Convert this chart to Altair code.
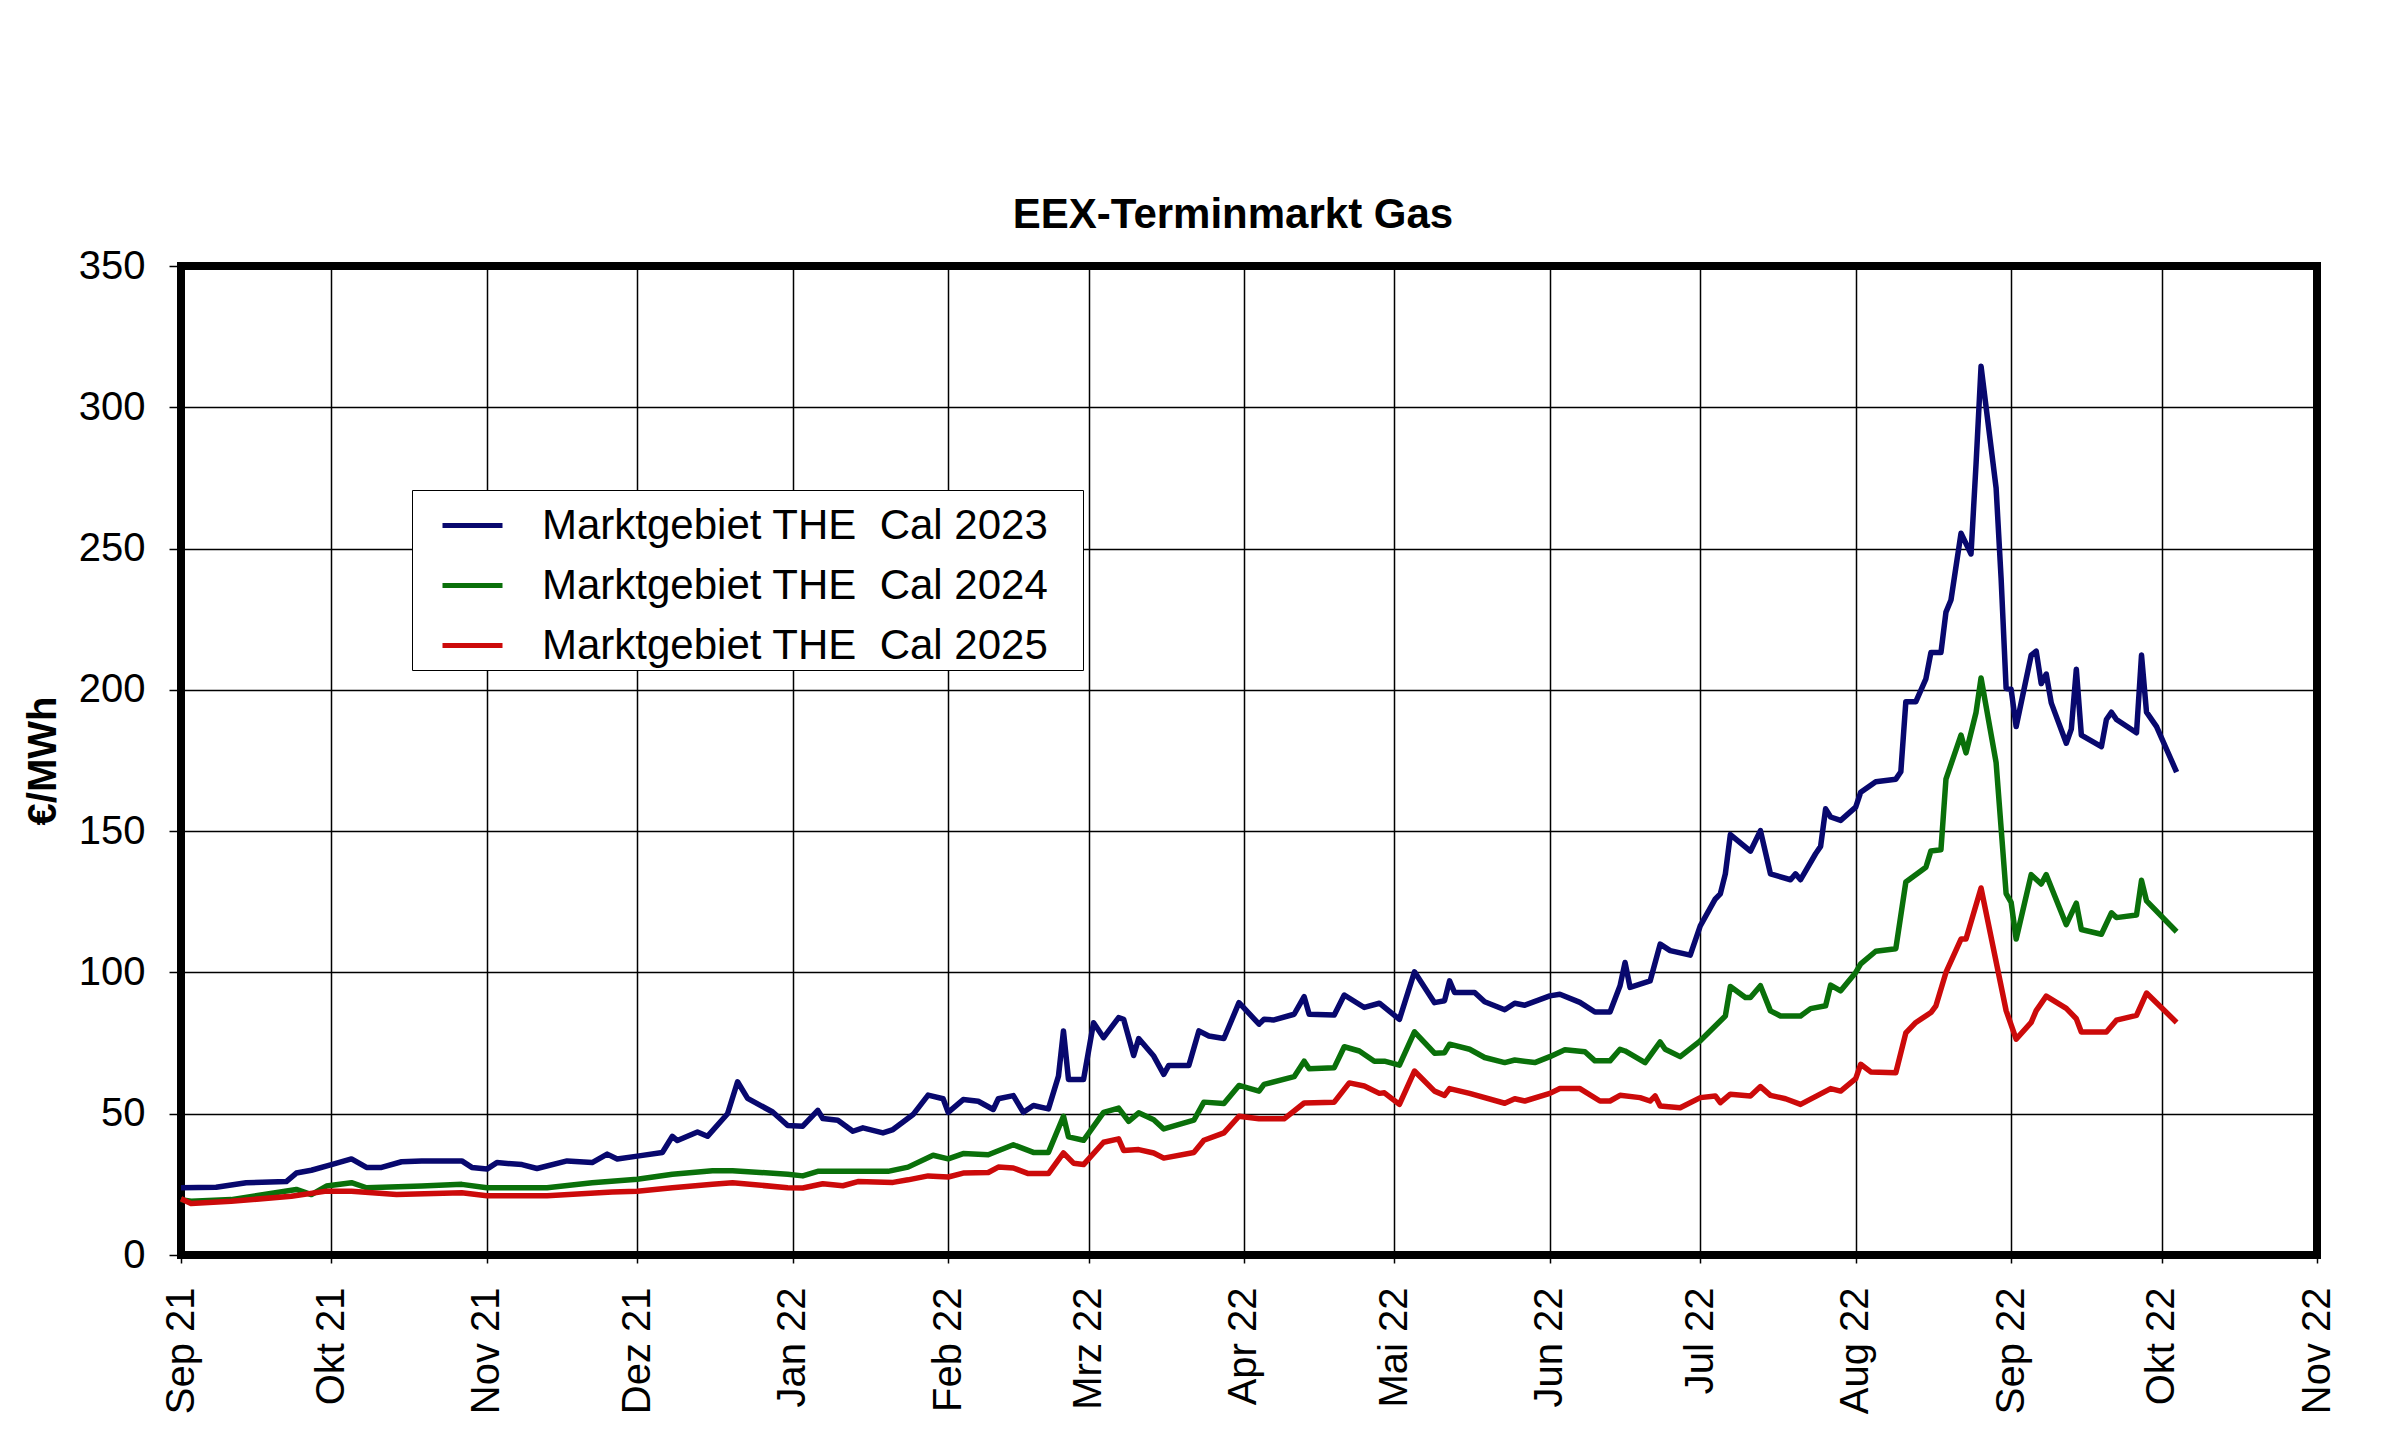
import altair as alt
import pandas as pd

# ---------------- data ----------------
labels = ["Marktgebiet THE \u00a0Cal 2023\u2800", "Marktgebiet THE \u00a0Cal 2024\u2800",
          "Marktgebiet THE \u00a0Cal 2025\u2800"]
colors = ["#08086e", "#0a700a", "#cc0a0a"]

dates_2023 = [
    "2021-09-01", "2021-09-08", "2021-09-14", "2021-09-22", "2021-09-24", "2021-09-27",
    "2021-10-01", "2021-10-05", "2021-10-08", "2021-10-11", "2021-10-15", "2021-10-19",
    "2021-10-27", "2021-10-29", "2021-11-01", "2021-11-03", "2021-11-08", "2021-11-11",
    "2021-11-17", "2021-11-22", "2021-11-25", "2021-11-27", "2021-12-01", "2021-12-06",
    "2021-12-08", "2021-12-09", "2021-12-13", "2021-12-15", "2021-12-19", "2021-12-21",
    "2021-12-23", "2021-12-28", "2021-12-31", "2022-01-03", "2022-01-06", "2022-01-07",
    "2022-01-10", "2022-01-13", "2022-01-15", "2022-01-19", "2022-01-21", "2022-01-25",
    "2022-01-28", "2022-01-31", "2022-02-01", "2022-02-04", "2022-02-07", "2022-02-10",
    "2022-02-11", "2022-02-14", "2022-02-16", "2022-02-18", "2022-02-21", "2022-02-23",
    "2022-02-24", "2022-02-25", "2022-02-28", "2022-03-02", "2022-03-04", "2022-03-07",
    "2022-03-08", "2022-03-10", "2022-03-11", "2022-03-14", "2022-03-16", "2022-03-17",
    "2022-03-21", "2022-03-23", "2022-03-25", "2022-03-28", "2022-03-31", "2022-04-04",
    "2022-04-05", "2022-04-07", "2022-04-11", "2022-04-13", "2022-04-14", "2022-04-19",
    "2022-04-21", "2022-04-25", "2022-04-28", "2022-05-02", "2022-05-05", "2022-05-09",
    "2022-05-11", "2022-05-12", "2022-05-13", "2022-05-17", "2022-05-19", "2022-05-23",
    "2022-05-25", "2022-05-27", "2022-06-01", "2022-06-03", "2022-06-07", "2022-06-10",
    "2022-06-13", "2022-06-15", "2022-06-16", "2022-06-17", "2022-06-21", "2022-06-23",
    "2022-06-25", "2022-06-29", "2022-07-01", "2022-07-04", "2022-07-05", "2022-07-06",
    "2022-07-07", "2022-07-11", "2022-07-13", "2022-07-15", "2022-07-19", "2022-07-20",
    "2022-07-21", "2022-07-24", "2022-07-25", "2022-07-26", "2022-07-27", "2022-07-29",
    "2022-08-01", "2022-08-02", "2022-08-05", "2022-08-09", "2022-08-10", "2022-08-11",
    "2022-08-13", "2022-08-15", "2022-08-16", "2022-08-18", "2022-08-19", "2022-08-20",
    "2022-08-22", "2022-08-24", "2022-08-25", "2022-08-26", "2022-08-29", "2022-08-30",
    "2022-08-31", "2022-09-01", "2022-09-02", "2022-09-05", "2022-09-06", "2022-09-07",
    "2022-09-08", "2022-09-09", "2022-09-12", "2022-09-13", "2022-09-14", "2022-09-15",
    "2022-09-19", "2022-09-20", "2022-09-21", "2022-09-22", "2022-09-26", "2022-09-27",
    "2022-09-28", "2022-09-30", "2022-10-04",
]
vals_2023 = [
    23.8, 24.0, 25.6, 26.0, 29.0, 30.0,
    32.0, 34.0, 31.0, 31.0, 33.0, 33.3,
    33.3, 31.0, 30.4, 32.7, 32.0, 30.6,
    33.3, 32.7, 35.7, 34.0, 35.0, 36.3,
    42.0, 40.5, 43.5, 42.0, 50.0, 61.3,
    55.4, 50.6, 45.8, 45.6, 51.2, 48.3,
    47.7, 43.8, 45.0, 43.2, 44.4, 49.7,
    56.6, 55.3, 50.5, 55.0, 54.4, 51.5,
    55.3, 56.4, 50.5, 52.9, 51.7, 63.3,
    79.3, 62.1, 62.1, 82.2, 76.9, 84.0,
    83.4, 70.6, 76.6, 70.4, 63.9, 67.1,
    67.1, 79.3, 77.5, 76.6, 89.3, 81.7,
    83.4, 83.2, 85.2, 91.4, 85.2, 84.9,
    92.0, 87.6, 89.1, 83.4, 100.2, 89.3,
    90.0, 97.0, 92.9, 92.9, 89.6, 86.8,
    89.1, 88.4, 91.7, 92.3, 89.4, 86.0,
    86.0, 95.3, 103.5, 94.7, 97.0, 110.0,
    107.7, 106.1, 116.5, 126.0, 127.8, 134.9,
    148.8, 142.9, 150.2, 134.9, 132.8, 134.9,
    132.8, 142.0, 144.6, 157.9, 155.0, 153.8,
    158.5, 163.8, 167.5, 168.4, 171.0, 195.8,
    195.8, 203.9, 213.2, 213.2, 227.5, 231.8,
    255.4, 248.1, 279.9, 314.5, 271.5, 239.4,
    200.5, 200.2, 187.0, 212.3, 213.7, 202.2,
    205.6, 195.4, 181.1, 186.1, 207.3, 184.0,
    179.9, 189.5, 192.1, 189.5, 184.8, 212.3,
    192.1, 187.0, 170.9,
]

dates_2024 = [
    "2021-09-01", "2021-09-03", "2021-09-11", "2021-09-24", "2021-09-27", "2021-09-30",
    "2021-10-05", "2021-10-08", "2021-10-19", "2021-10-27", "2021-11-01", "2021-11-13",
    "2021-11-22", "2021-12-01", "2021-12-08", "2021-12-16", "2021-12-20", "2021-12-31",
    "2022-01-03", "2022-01-06", "2022-01-20", "2022-01-24", "2022-01-29", "2022-02-01",
    "2022-02-04", "2022-02-09", "2022-02-14", "2022-02-18", "2022-02-21", "2022-02-24",
    "2022-02-25", "2022-02-28", "2022-03-04", "2022-03-07", "2022-03-09", "2022-03-11",
    "2022-03-14", "2022-03-16", "2022-03-22", "2022-03-24", "2022-03-28", "2022-03-31",
    "2022-04-04", "2022-04-05", "2022-04-11", "2022-04-13", "2022-04-14", "2022-04-19",
    "2022-04-21", "2022-04-24", "2022-04-27", "2022-04-29", "2022-05-02", "2022-05-05",
    "2022-05-09", "2022-05-11", "2022-05-12", "2022-05-16", "2022-05-19", "2022-05-23",
    "2022-05-25", "2022-05-29", "2022-06-01", "2022-06-04", "2022-06-08", "2022-06-10",
    "2022-06-13", "2022-06-15", "2022-06-16", "2022-06-20", "2022-06-23", "2022-06-24",
    "2022-06-27", "2022-07-01", "2022-07-06", "2022-07-07", "2022-07-10", "2022-07-11",
    "2022-07-13", "2022-07-15", "2022-07-17", "2022-07-21", "2022-07-23", "2022-07-26",
    "2022-07-27", "2022-07-29", "2022-08-01", "2022-08-02", "2022-08-05", "2022-08-09",
    "2022-08-11", "2022-08-15", "2022-08-16", "2022-08-18", "2022-08-19", "2022-08-22",
    "2022-08-23", "2022-08-25", "2022-08-26", "2022-08-29", "2022-08-31", "2022-09-01",
    "2022-09-02", "2022-09-05", "2022-09-07", "2022-09-08", "2022-09-12", "2022-09-14",
    "2022-09-15", "2022-09-19", "2022-09-21", "2022-09-22", "2022-09-26", "2022-09-27",
    "2022-09-28", "2022-10-04",
]
vals_2024 = [
    19.6, 19.0, 19.6, 23.2, 21.4, 24.4,
    25.6, 23.8, 24.4, 25.0, 23.8, 23.8,
    25.6, 26.8, 28.6, 29.8, 29.8, 28.6,
    28.0, 29.6, 29.6, 31.1, 35.3, 34.0,
    35.9, 35.5, 39.0, 36.3, 36.3, 49.1,
    41.8, 40.6, 50.5, 52.0, 47.3, 50.3,
    47.9, 44.6, 47.7, 54.1, 53.6, 60.0,
    58.0, 60.4, 63.1, 68.6, 65.9, 66.3,
    73.7, 72.2, 68.6, 68.6, 67.2, 79.0,
    71.4, 71.6, 74.6, 72.8, 69.9, 68.1,
    69.0, 68.1, 70.2, 72.6, 71.9, 68.7,
    68.7, 72.8, 72.2, 68.1, 75.4, 72.8,
    70.2, 75.8, 84.6, 95.0, 91.1, 91.1,
    95.3, 86.4, 84.6, 84.6, 87.2, 88.2,
    95.5, 93.5, 100.0, 103.0, 107.5, 108.4,
    132.0, 137.2, 143.0, 143.4, 168.4, 184.0,
    177.7, 192.0, 204.2, 174.3, 127.9, 124.8,
    111.8, 134.6, 131.3, 134.6, 116.9, 124.5,
    115.2, 113.5, 121.1, 119.4, 120.3, 132.6,
    125.3, 114.4,
]

dates_2025 = [
    "2021-09-01", "2021-09-03", "2021-09-11", "2021-09-23", "2021-09-30", "2021-10-05",
    "2021-10-14", "2021-10-27", "2021-11-01", "2021-11-13", "2021-11-26", "2021-12-01",
    "2021-12-08", "2021-12-16", "2021-12-20", "2021-12-31", "2022-01-03", "2022-01-07",
    "2022-01-11", "2022-01-14", "2022-01-21", "2022-01-24", "2022-01-28", "2022-02-01",
    "2022-02-04", "2022-02-09", "2022-02-11", "2022-02-14", "2022-02-17", "2022-02-21",
    "2022-02-24", "2022-02-26", "2022-02-28", "2022-03-04", "2022-03-07", "2022-03-08",
    "2022-03-11", "2022-03-14", "2022-03-16", "2022-03-22", "2022-03-24", "2022-03-28",
    "2022-03-31", "2022-04-04", "2022-04-09", "2022-04-13", "2022-04-19", "2022-04-22",
    "2022-04-25", "2022-04-28", "2022-04-29", "2022-05-02", "2022-05-05", "2022-05-09",
    "2022-05-11", "2022-05-12", "2022-05-16", "2022-05-23", "2022-05-25", "2022-05-27",
    "2022-06-01", "2022-06-03", "2022-06-07", "2022-06-11", "2022-06-13", "2022-06-15",
    "2022-06-19", "2022-06-21", "2022-06-22", "2022-06-23", "2022-06-27", "2022-07-01",
    "2022-07-04", "2022-07-05", "2022-07-07", "2022-07-11", "2022-07-13", "2022-07-15",
    "2022-07-18", "2022-07-21", "2022-07-27", "2022-07-29", "2022-08-01", "2022-08-02",
    "2022-08-04", "2022-08-09", "2022-08-11", "2022-08-13", "2022-08-16", "2022-08-17",
    "2022-08-19", "2022-08-22", "2022-08-23", "2022-08-26", "2022-08-31", "2022-09-02",
    "2022-09-05", "2022-09-06", "2022-09-08", "2022-09-12", "2022-09-14", "2022-09-15",
    "2022-09-20", "2022-09-22", "2022-09-26", "2022-09-28", "2022-10-04",
]
vals_2025 = [
    19.9, 18.2, 19.0, 20.8, 22.6, 22.6,
    21.4, 22.0, 21.0, 21.0, 22.3, 22.6,
    23.8, 25.0, 25.6, 23.8, 23.7, 25.2,
    24.5, 26.0, 25.7, 26.6, 28.0, 27.6,
    29.0, 29.2, 31.1, 30.8, 28.8, 28.8,
    36.1, 32.5, 32.0, 39.9, 41.1, 37.0,
    37.3, 36.1, 34.3, 36.3, 40.6, 43.2,
    49.1, 48.2, 48.2, 53.8, 54.1, 60.9,
    59.8, 57.2, 57.4, 53.3, 65.1, 58.0,
    56.5, 58.9, 57.2, 53.7, 55.3, 54.5,
    57.2, 58.9, 58.9, 54.5, 54.5, 56.5,
    55.7, 54.5, 56.3, 52.7, 52.1, 55.7,
    56.3, 53.9, 56.9, 56.3, 59.6, 56.5,
    55.3, 53.3, 58.9, 58.0, 62.4, 67.5,
    64.8, 64.5, 78.6, 82.3, 85.8, 88.2,
    100.0, 111.8, 111.8, 129.9, 86.5, 76.4,
    82.3, 86.5, 91.6, 87.3, 83.6, 78.9,
    78.9, 83.1, 84.8, 92.7, 82.3,
]

month_names = ["Jan", "Feb", "Mrz", "Apr", "Mai", "Jun", "Jul", "Aug", "Sep", "Okt", "Nov", "Dez"]
tick_months = [(2021, m) for m in range(9, 13)] + [(2022, m) for m in range(1, 12)]
y_ticks = [0, 50, 100, 150, 200, 250, 300, 350]

# ---------------- build table ----------------
rows = []
for lab, ds, vs in zip(labels, [dates_2023, dates_2024, dates_2025], [vals_2023, vals_2024, vals_2025]):
    for d, v in zip(ds, vs):
        rows.append({"date": d + "T00:00:00", "value": v, "series": lab})
df = pd.DataFrame(rows)

FONT = "Liberation Sans, Arial, Helvetica, sans-serif"
tick_values = [alt.DateTime(year=y, month=m, date=1) for y, m in tick_months]
label_expr = (
    "[" + ",".join("'" + n + "'" for n in month_names) + "][month(datum.value)]"
    " + ' ' + timeFormat(datum.value, '%y')"
)

PLOT_W = 2136
PLOT_H = 989

chart = alt.Chart(df).mark_line(strokeWidth=5.5, strokeJoin="round").encode(
    x=alt.X(
        "date:T",
        scale=alt.Scale(domain=[alt.DateTime(year=2021, month=9, date=1),
                                alt.DateTime(year=2022, month=11, date=1)]),
        axis=alt.Axis(
            values=tick_values, labelExpr=label_expr, labelAngle=-90,
            labelAlign="right", labelBaseline="middle",
            labelFontSize=40, labelFont=FONT, labelColor="black",
            labelPadding=24, tickSize=8, tickColor="black", tickWidth=1.5,
            grid=True, gridColor="black", gridWidth=1.5, gridOpacity=1,
            domain=False, title=None, labelOverlap=False, labelFlush=False,
        ),
    ),
    y=alt.Y(
        "value:Q",
        scale=alt.Scale(domain=[0, 350], nice=False),
        axis=alt.Axis(
            values=y_ticks, labelFontSize=40, labelFont=FONT, labelColor="black",
            labelPadding=24, tickSize=12, tickColor="black", tickWidth=1.5,
            grid=True, gridColor="black", gridWidth=1.5, gridOpacity=1,
            domain=False, title="€/MWh", titleFont=FONT, titleFontSize=40,
            titleFontWeight="bold", titleColor="black", titleX=-138,
            titleY=PLOT_H / 2, titleAlign="center", titleBaseline="middle",
            titleAngle=270,
        ),
    ),
    color=alt.Color(
        "series:N",
        scale=alt.Scale(domain=labels, range=colors),
        legend=alt.Legend(
            title=None, orient="none", legendX=231, legendY=224,
            direction="vertical", strokeColor="black", fillColor="white",
            padding=3, labelFontSize=42, labelFont=FONT, labelColor="black",
            labelLimit=0, labelOffset=37, symbolType="stroke", symbolSize=3600,
            symbolStrokeWidth=5, symbolOffset=25, rowPadding=6,
        ),
    ),
).properties(
    width=PLOT_W,
    height=PLOT_H,
    background="white",
    title=alt.TitleParams(
        "EEX-Terminmarkt Gas", font=FONT, fontSize=42, fontWeight="bold",
        color="black", anchor="middle", offset=9, dx=-16,
    ),
    autosize=alt.AutoSizeParams(type="none"),
    padding={"left": 173, "top": 258, "right": 70, "bottom": 180},
).configure_view(
    stroke="black", strokeWidth=8
)

chart.save("out.html", embed_options={"renderer": "svg", "actions": False})
